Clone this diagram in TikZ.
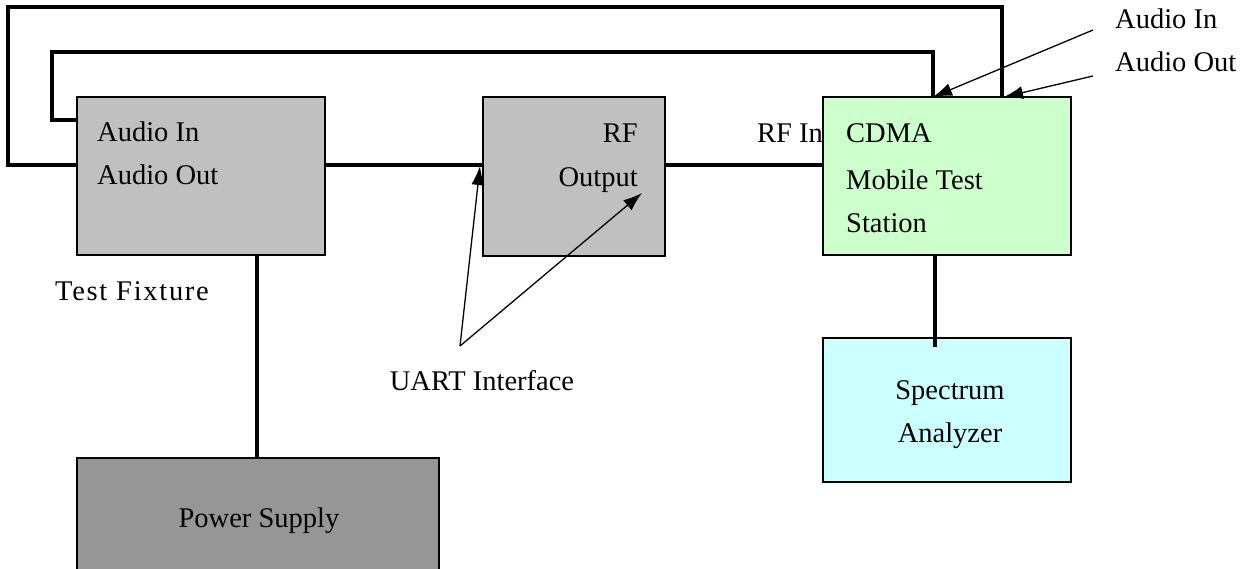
\documentclass[tikz,border=0pt]{standalone}
\usepackage{fontspec}
\setmainfont{Liberation Serif}
\usetikzlibrary{arrows.meta,calc}
\definecolor{boxgray}{HTML}{C0C0C0}
\definecolor{psgray}{HTML}{969696}
\definecolor{cdmagreen}{HTML}{CCFFCC}
\definecolor{specblue}{HTML}{CCFFFF}
\tikzset{
  blk/.style={draw=black,line width=1.4pt,inner sep=0pt,outer sep=0pt},
  wire/.style={line width=3.2pt},
  ptr/.style={line width=1.3pt,-{Latex[length=19pt,width=13pt]}},
  txt/.style={font=\fontsize{28.5}{33}\selectfont,inner sep=0pt},
  lbl/.style={txt,anchor=base west},
  lblc/.style={txt,anchor=base},
  lble/.style={txt,anchor=base east}
}
\begin{document}
\begin{tikzpicture}[x=1pt,y=-1pt]
\useasboundingbox (0,0) rectangle (1249,569);
\clip (0,0) rectangle (1249,569);
% boxes
\path[blk,fill=boxgray] (77,97) rectangle (325,255);
\path[blk,fill=boxgray] (483,97) rectangle (665,256);
\path[blk,fill=cdmagreen] (823,97) rectangle (1071,255);
\path[blk,fill=specblue] (823,338) rectangle (1071,482);
\path[blk,fill=psgray] (77,458) rectangle (439,600);
% named anchors for connectors
\coordinate (fixL1) at (77,120);
\coordinate (fixL2) at (77,165);
\coordinate (fixR) at (325,165);
\coordinate (fixB) at (257,255);
\coordinate (rfL) at (483,165);
\coordinate (rfR) at (665,165);
\coordinate (cdL) at (823,165);
\coordinate (cdT1) at (933,97);
\coordinate (cdT2) at (1002,97);
\coordinate (cdB) at (935,255);
\coordinate (spT) at (935,347);
\coordinate (psT) at (257,458);
% wires
\draw[wire] (fixL1) -- (52,120) -- (52,52) -- (933,52) -- (cdT1);
\draw[wire] (fixL2) -- (8,165) -- (8,7) -- (1002,7) -- (cdT2);
\draw[wire] (fixR) -- (rfL);
\draw[wire] (rfR) -- (cdL);
\draw[wire] (cdB) -- (spT);
\draw[wire] (fixB) -- (psT);
% texts
\node[lbl] (t1) at (97,142) {Audio In};
\node[lbl] (t2) at (97,185) {Audio Out};
\node[lblc] (t3) at (132,300) {\addfontfeature{LetterSpace=6}Test Fixture};
\node[lble] (t4) at (638,143) {RF};
\node[lble] (t5) at (638,187) {Output};
\node[lbl] (t6) at (757,143) {RF In};
\node[lbl] (t7) at (846,143) {CDMA};
\node[lbl] (t8) at (846,190) {Mobile Test};
\node[lbl] (t9) at (846,233) {Station};
\node[lblc] (t10) at (482,390) {UART Interface};
\node[lblc] (t11) at (950,399) {Spectrum};
\node[lblc] (t12) at (950,442) {Analyzer};
\node[lblc] (t13) at (259,527) {Power Supply};
\node[lbl] (t14) at (1115,29) {Audio In};
\node[lbl] (t15) at (1115,72) {Audio Out};
% pointer arrows
\coordinate (u0) at (460,346);
\coordinate (a1) at (1093,30);
\coordinate (a2) at (1093,76);
\draw[ptr] (u0) -- (480,166);
\draw[ptr] (u0) -- (642,193);
\draw[ptr] (a1) -- (cdT1);
\draw[ptr] (a2) -- (1004,97);
\end{tikzpicture}
\end{document}
